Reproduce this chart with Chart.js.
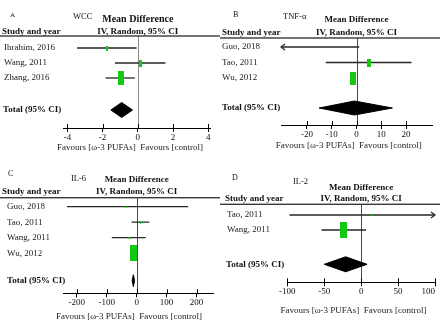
<!DOCTYPE html>
<html><head><meta charset="utf-8">
<script src="https://cdn.jsdelivr.net/npm/chart.js@4.4.1/dist/chart.umd.min.js"></script>
<style>
html,body{margin:0;padding:0;background:#fff;}
#wrap{position:relative;width:440px;height:330px;overflow:hidden;background:#fff;}
canvas{position:absolute;}
</style></head><body>
<div id="wrap">
<canvas id="cA" width="220" height="165" style="left:0;top:0"></canvas>
<canvas id="cB" width="220" height="165" style="left:220px;top:0"></canvas>
<canvas id="cC" width="220" height="165" style="left:0;top:165px"></canvas>
<canvas id="cD" width="220" height="165" style="left:220px;top:165px"></canvas>
</div>
<script>
// ---- Panel A: WCC ----
const wccStudies = ["Ibrahim, 2016", "Wang, 2011", "Zhang, 2016"];
const wccMean = [-1.77, 0.15, -0.98];
const wccLow = [-3.45, -1.30, -1.83];
const wccHigh = [-0.07, 1.57, -0.17];
const wccWeight = [9, 19, 72];
const wccTotal = [-1.53, -0.92, -0.30]; // low, estimate, high
const wccTicks = [-4, -2, 0, 2, 4];

// ---- Panel B: TNF-α ----
const tnfStudies = ["Guo, 2018", "Tao, 2011", "Wu, 2012"];
const tnfMean = [-45, 5.0, -1.6];
const tnfLow = [-95, -12.4, -2.6];
const tnfHigh = [1.1, 22.2, -0.6];
const tnfWeight = [8, 25, 67];
const tnfTotal = [-15.1, -0.8, 14.5];
const tnfTicks = [-20, -10, 0, 10, 20];

// ---- Panel C: IL-6 ----
const il6Studies = ["Guo, 2018", "Tao, 2011", "Wang, 2011", "Wu, 2012"];
const il6Mean = [-33, 13, -28, -10];
const il6Low = [-233, -17, -83, -13];
const il6High = [172, 42, 30, -7];
const il6Weight = [0.3, 2.5, 0.8, 96.4];
const il6Total = [-15, -11, -7];
const il6Ticks = [-200, -100, 0, 100, 200];

// ---- Panel D: IL-2 ----
const il2Studies = ["Tao, 2011", "Wang, 2011"];
const il2Mean = [15.6, -23.7];
const il2Low = [-97, -53.6];
const il2High = [130, 6.7];
const il2Weight = [1.5, 98.5];
const il2Total = [-50, -21, 8];
const il2Ticks = [-100, -50, 0, 50, 100];

const SERIF = "'Liberation Serif', 'DejaVu Serif', serif";
const GREEN = '#14c814';

const layouts = {
  A: {canvas:'cA', letter:'A', letterX:10, letterY:15, letterSize:7, measure:'WCC', measureX:73, measureY:17, measureSize:8.5,
      mdY:19, mdSize:10, headX:2, headY:32, lineY:36, axisY:128, left:63, right:210, nameX:4, totalX:3,
      rowTop:48, rowStep:15, totalY:110, favY:148, xMin:-4.25, xMax:4.1, zeroColor:'#8c8c8c', diamondHalf:7.5, padLast:false},
  B: {canvas:'cB', letter:'B', letterX:13, letterY:15, letterSize:8, measure:'TNF-α', measureX:63, measureY:17, measureSize:8.5,
      mdY:20, mdSize:9, headX:2, headY:33, lineY:38, axisY:125, left:61, right:212, nameX:2, totalX:2,
      rowTop:47, rowStep:15.5, totalY:108, favY:146, xMin:-30.5, xMax:30.5, zeroColor:'#4a4a4a', diamondHalf:7, padLast:false},
  C: {canvas:'cC', letter:'C', letterX:8, letterY:9, letterSize:8, measure:'IL-6', measureX:71, measureY:14, measureSize:8.5,
      mdY:15, mdSize:9, headX:2, headY:27, lineY:32.7, axisY:128.3, left:63.3, right:213, nameX:7, totalX:7,
      rowTop:41.7, rowStep:15.5, totalY:115.7, favY:151.7, xMin:-245, xMax:255, zeroColor:'#4a4a4a', diamondHalf:6, padLast:false},
  D: {canvas:'cD', letter:'D', letterX:12, letterY:12.7, letterSize:8, measure:'IL-2', measureX:73, measureY:16.7, measureSize:8.5,
      mdY:22.7, mdSize:9, headX:5, headY:34, lineY:39.3, axisY:117.3, left:67.3, right:216.7, nameX:7, totalX:6,
      rowTop:50, rowStep:15, totalY:99.3, favY:145.7, xMin:-100, xMax:100, zeroColor:'#4a4a4a', diamondHalf:7.5, padLast:true}
};

function makeBox(weight) {
  const area = 1.15 * weight;
  const w = Math.max(1, Math.round(Math.sqrt(area / 2.3)));
  const h = Math.max(2, Math.round(Math.sqrt(area / 2.3) * 2.3));
  const c = document.createElement('canvas');
  c.width = w; c.height = h;
  const g = c.getContext('2d');
  g.fillStyle = GREEN;
  g.fillRect(0, 0, w, h);
  return c;
}

function chromePlugin(L, studies, low, high, totalRow) {
  return {
    id: 'chrome' + L.letter,
    beforeDatasetsDraw(chart) {
      const {ctx, chartArea: a, scales: {x}} = chart;
      const zx = Math.round(x.getPixelForValue(0)) + 0.5;
      ctx.save();
      ctx.strokeStyle = L.zeroColor; ctx.lineWidth = 1;
      ctx.beginPath(); ctx.moveTo(zx, a.top); ctx.lineTo(zx, a.bottom); ctx.stroke();
      ctx.restore();
    },
    afterDraw(chart) {
      const {ctx, chartArea: a, scales: {x, y}} = chart;
      const zx = x.getPixelForValue(0);
      ctx.save();
      // header rule
      ctx.fillStyle = '#3a3a3a';
      ctx.fillRect(0, L.lineY - 0.7, chart.width, 1.4);
      // tick marks above the axis line
      ctx.strokeStyle = '#000'; ctx.lineWidth = 1;
      x.ticks.forEach(t => {
        const px = Math.round(x.getPixelForValue(t.value)) + 0.5;
        ctx.beginPath(); ctx.moveTo(px, a.bottom - 4); ctx.lineTo(px, a.bottom); ctx.stroke();
      });
      // arrows for CIs beyond the axis
      ctx.strokeStyle = '#262626'; ctx.lineWidth = 1.2;
      studies.forEach((s, i) => {
        const py = y.getPixelForValue(i + 1);
        if (low[i] < x.min) {
          ctx.beginPath(); ctx.moveTo(a.left + 4, py - 3); ctx.lineTo(a.left, py); ctx.lineTo(a.left + 4, py + 3); ctx.stroke();
        }
        if (high[i] > x.max) {
          ctx.beginPath(); ctx.moveTo(a.right - 4, py - 3); ctx.lineTo(a.right, py); ctx.lineTo(a.right - 4, py + 3); ctx.stroke();
        }
      });
      // texts
      ctx.textBaseline = 'middle';
      const txt = (s, tx, ty, align, font, color) => {
        ctx.font = font; ctx.textAlign = align; ctx.fillStyle = color || '#111';
        ctx.fillText(s, tx, ty);
      };
      txt(L.letter, L.letterX, L.letterY, 'left', `${L.letterSize}px ${SERIF}`);
      txt(L.measure, L.measureX, L.measureY, 'left', `${L.measureSize}px ${SERIF}`);
      txt('Mean Difference', zx, L.mdY, 'center', `bold ${L.mdSize}px ${SERIF}`);
      txt('Study and year', L.headX, L.headY, 'left', `bold 9px ${SERIF}`);
      txt('IV, Random, 95% CI', zx, L.headY, 'center', `bold 9px ${SERIF}`);
      studies.forEach((s, i) => txt(s, L.nameX, y.getPixelForValue(i + 1), 'left', `9px ${SERIF}`, '#222'));
      txt('Total (95% CI)', L.totalX, y.getPixelForValue(totalRow), 'left', `bold 9px ${SERIF}`);
      txt('Favours [ω-3 PUFAs]', zx - 2, L.favY, 'right', `9px ${SERIF}`, '#222');
      txt('Favours [control]', zx + 2.5, L.favY, 'left', `9px ${SERIF}`, '#222');
      ctx.restore();
    }
  };
}

function buildPanel(L, studies, mean, low, high, weight, total, ticks) {
  const yMin = 1 - (L.rowTop - L.lineY) / L.rowStep;
  const yMax = yMin + (L.axisY - L.lineY) / L.rowStep;
  const totalRow = yMin + (L.totalY - L.lineY) / L.rowStep;
  const dh = L.diamondHalf / L.rowStep;
  const datasets = [];
  datasets.push({type: 'scatter', label: 'Mean difference', order: 0,
    data: mean.map((m, i) => ({x: m, y: i + 1})),
    pointStyle: weight.map(makeBox), pointRadius: 4, clip: 0});
  datasets.push({type: 'line', label: 'Total (95% CI)', order: 1, showLine: true,
    data: [{x: total[0], y: totalRow}, {x: total[1], y: totalRow - dh}, {x: total[2], y: totalRow},
           {x: total[1], y: totalRow + dh}, {x: total[0], y: totalRow}],
    borderColor: '#000', backgroundColor: '#000', borderWidth: 1, pointRadius: 0, fill: 'shape', tension: 0});
  studies.forEach((s, i) => datasets.push({type: 'line', label: s, order: 2, showLine: true,
    data: [{x: low[i], y: i + 1}, {x: high[i], y: i + 1}],
    borderColor: '#262626', borderWidth: 1.3, pointRadius: 0, fill: false}));

  new Chart(document.getElementById(L.canvas), {
    type: 'scatter',
    data: {datasets},
    options: {
      responsive: false, animation: false, devicePixelRatio: 1, events: [],
      layout: {padding: {left: L.left, right: 220 - L.right, top: L.lineY, bottom: 0}},
      plugins: {legend: {display: false}, tooltip: {enabled: false}},
      scales: {
        x: {type: 'linear', min: L.xMin, max: L.xMax,
          afterBuildTicks: s => { s.ticks = ticks.map(v => ({value: v})); },
          afterFit: s => { s.height = 165 - L.axisY; s.paddingLeft = 0; s.paddingRight = 0; },
          ticks: {color: '#111', font: {family: SERIF, size: 9}, padding: 0, maxRotation: 0, autoSkip: false,
                  callback: v => (L.padLast && v === L.xMax) ? String(v) + '\u2003\u2002' : String(v)},
          grid: {drawOnChartArea: false, drawTicks: true, tickLength: 4, tickColor: '#000', tickWidth: 1},
          border: {display: true, color: '#000', width: 1}},
        y: {type: 'linear', display: false, reverse: true, min: yMin, max: yMax}
      }
    },
    plugins: [chromePlugin(L, studies, low, high, totalRow)]
  });
}

buildPanel(layouts.A, wccStudies, wccMean, wccLow, wccHigh, wccWeight, wccTotal, wccTicks);
buildPanel(layouts.B, tnfStudies, tnfMean, tnfLow, tnfHigh, tnfWeight, tnfTotal, tnfTicks);
buildPanel(layouts.C, il6Studies, il6Mean, il6Low, il6High, il6Weight, il6Total, il6Ticks);
buildPanel(layouts.D, il2Studies, il2Mean, il2Low, il2High, il2Weight, il2Total, il2Ticks);
</script>
</body></html>
